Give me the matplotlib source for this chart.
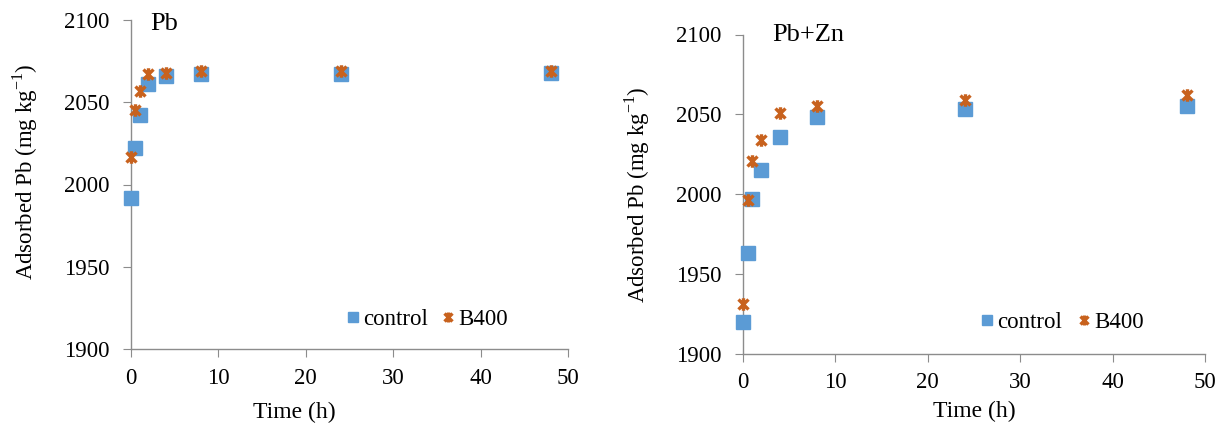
import matplotlib
matplotlib.use("Agg")
from matplotlib import pyplot as plt
from matplotlib.path import Path
import numpy as np

# sampling times (h)
time_h = [0, 0.5, 1, 2, 4, 8, 24, 48]

# Pb alone
pb_control = [1992, 2022, 2042, 2061, 2066, 2067, 2067, 2068]
pb_b400 = [2017, 2045, 2057, 2067, 2068, 2069, 2069, 2069]

# Pb + Zn
pbzn_control = [1920, 1963, 1997, 2015, 2036, 2048, 2053, 2055]
pbzn_b400 = [1931, 1996, 2021, 2034, 2051, 2055, 2059, 2062]

panel_titles = ["Pb", "Pb+Zn"]
series_names = ["control", "B400"]

plt.rcParams['font.family'] = ['Liberation Serif', 'DejaVu Serif']
plt.rcParams['mathtext.fontset'] = 'custom'
plt.rcParams['mathtext.rm'] = 'Liberation Serif'

blue = '#5B9BD5'
orange = '#C8621E'
axis_grey = '#8C8C8C'
fs = 16.5

# excel style star marker: x with a vertical bar
star = Path([(-1, -1), (1, 1), (-1, 1), (1, -1), (0, -1.25), (0, 1.25)],
            [Path.MOVETO, Path.LINETO, Path.MOVETO, Path.LINETO, Path.MOVETO, Path.LINETO])

W, H = 1219.0, 434.0
fig = plt.figure(figsize=(12.19, 4.34), dpi=100)
ax1 = fig.add_axes([131 / W, 1 - 349 / H, 437 / W, 329 / H])
ax2 = fig.add_axes([743 / W, 1 - 353.5 / H, 462 / W, 319 / H])

# per panel: axes, data, legend anchor (px), column spacing, title pos (px),
# x label pos (px), y label pos (px)
panels = [(ax1, pb_control, pb_b400, (346, 319), 0.55, (150, 13), (294, 412), (25, 172)),
          (ax2, pbzn_control, pbzn_b400, (980, 322), 0.65, (772, 24), (974, 411), (637, 195))]

for i, (ax, ctrl, b400, leg_px, colsp, title_px, xl_px, yl_px) in enumerate(panels):
    ax.plot(time_h, ctrl, linestyle='none', marker='s', markersize=9.5,
            color=blue, label=series_names[0], clip_on=False, zorder=3)
    ax.plot(time_h, b400, linestyle='none', marker=star, markersize=9,
            markerfacecolor='none', markeredgecolor=orange, markeredgewidth=2.4,
            label=series_names[1], clip_on=False, zorder=4)
    ax.set_xlim(0, 50)
    ax.set_ylim(1900, 2100)
    ax.set_xticks([0, 10, 20, 30, 40, 50])
    ax.set_yticks([1900, 1950, 2000, 2050, 2100])
    for s in ['top', 'right']:
        ax.spines[s].set_visible(False)
    for s in ['left', 'bottom']:
        ax.spines[s].set_color(axis_grey)
        ax.spines[s].set_linewidth(1.0)
    ax.tick_params(axis='both', direction='out', length=5.5, color=axis_grey,
                   labelsize=fs, labelcolor='black')
    ax.tick_params(axis='y', pad=10)
    ax.tick_params(axis='x', pad=8)

    fig.text(xl_px[0] / W, 1 - xl_px[1] / H, 'Time (h)', fontsize=17,
             ha='center', va='center')
    fig.text(yl_px[0] / W, 1 - yl_px[1] / H, 'Adsorbed Pb (mg kg$^{-1}$)',
             fontsize=fs, rotation=90, ha='center', va='center')
    fig.text(title_px[0] / W, 1 - title_px[1] / H, panel_titles[i],
             fontsize=19, va='top', ha='left')
    ax.legend(loc='center left', bbox_to_anchor=(leg_px[0] / W, 1 - leg_px[1] / H),
              bbox_transform=fig.transFigure, ncol=2, frameon=False,
              fontsize=fs, borderpad=0, borderaxespad=0, handlelength=0.6,
              handletextpad=0.15, columnspacing=colsp, markerscale=0.8)

fig.savefig('out.png', dpi=100)
